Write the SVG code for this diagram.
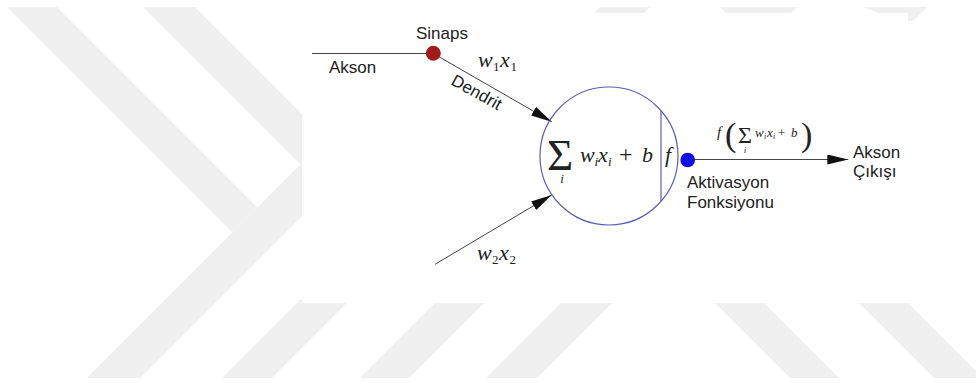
<svg xmlns="http://www.w3.org/2000/svg" width="976" height="383" viewBox="0 0 976 383">
<style>
.wm{fill:#efefef}
.lbl{font-family:"Liberation Sans",Arial,sans-serif;font-size:17px;fill:#222}
.m{font-family:"Liberation Serif","Times New Roman",serif;font-style:italic;fill:#222}
.up{font-style:normal}
.ln{stroke:#444;stroke-width:1;fill:none}
</style>
<defs>
<marker id="ah" markerUnits="userSpaceOnUse" markerWidth="22" markerHeight="10" refX="21" refY="5" orient="auto">
<path d="M0,0 L21,5 L0,10 Z" fill="#111"/>
</marker>
</defs>
<rect width="976" height="383" fill="#fff"/>
<g id="watermark">
<polygon class="wm" points="7,7 57,7 257.5,207.5 232.5,232.5"/>
<polygon class="wm" points="87,378 140,378 330,188 330,135"/>
<polygon class="wm" points="143,7 195,7 330,142 330,194"/>
<polygon class="wm" points="222,378 272,378 350,300 300,300"/>
<polygon class="wm" points="360,378 409,378 487,300 438,300"/>
<polygon class="wm" points="486,378 537,378 615,300 564,300"/>
<polygon class="wm" points="712,300 761,300 839,378 790,378"/>
<polygon class="wm" points="856,300 905,300 983,378 934,378"/>
<polygon class="wm" points="600,7 650,7 644,13 594,13"/>
<polygon class="wm" points="720,7 797,7 791,13 726,13"/>
<polygon class="wm" points="863,7 927,7 913,21 900,21"/>
<rect x="302" y="13" width="606" height="290" fill="#fff"/>
</g>
<g id="connectors">
<line class="ln" x1="312" y1="53.5" x2="430" y2="53.5"/>
<line class="ln" x1="433" y1="53.3" x2="551.7" y2="121.7" marker-end="url(#ah)"/>
<line class="ln" x1="435" y1="264.3" x2="551.7" y2="195" marker-end="url(#ah)"/>
<line class="ln" x1="690" y1="159.5" x2="848.3" y2="159.5" marker-end="url(#ah)"/>
<text class="lbl" transform="translate(450,84) rotate(29)">Dendrit</text>
<text class="m" font-size="22" y="67"><tspan x="478">w</tspan><tspan x="493" dy="4" font-size="13" class="up">1</tspan><tspan x="500" dy="-4">x</tspan><tspan x="510.5" dy="4" font-size="13" class="up">1</tspan></text>
<text class="m" font-size="22" y="260"><tspan x="477">w</tspan><tspan x="492" dy="4" font-size="13" class="up">2</tspan><tspan x="499" dy="-4">x</tspan><tspan x="509.5" dy="4" font-size="13" class="up">2</tspan></text>
<text class="m" font-size="15" x="717" y="137">f</text>
<text class="m up" font-size="34" x="725" y="146">(</text>
<text class="m up" font-size="24" x="738" y="143">Σ</text>
<text class="m" font-size="9" x="745" y="153" text-anchor="middle">i</text>
<text class="m" font-size="13" y="137"><tspan x="755">w</tspan><tspan x="764" dy="2" font-size="8">i</tspan><tspan x="767" dy="-2">x</tspan><tspan x="773" dy="2" font-size="8">i</tspan><tspan x="778" dy="-2" class="up">+</tspan><tspan x="791">b</tspan></text>
<text class="m up" font-size="34" x="801" y="146">)</text>
</g>
<g id="akson-in">
<text class="lbl" x="329" y="73">Akson</text>
</g>
<g id="sinaps">
<circle cx="433.3" cy="53.3" r="7.5" fill="#a11b1b"/>
<text class="lbl" x="416" y="39">Sinaps</text>
</g>
<g id="neuron">
<circle cx="609" cy="156" r="69" fill="none" stroke="#5c5cb8" stroke-width="1.2"/>
<line x1="661" y1="110.7" x2="661" y2="201.3" stroke="#5c5cb8" stroke-width="1.2"/>
<text class="m up" font-size="45" x="547" y="170">Σ</text>
<text class="m" font-size="13" x="562" y="183" text-anchor="middle">i</text>
<text class="m" font-size="22" y="162"><tspan x="580">w</tspan><tspan x="594.5" dy="4" font-size="13">i</tspan><tspan x="598" dy="-4">x</tspan><tspan x="608" dy="4" font-size="13">i</tspan><tspan x="619" dy="-4" class="up" font-size="24">+</tspan><tspan x="642">b</tspan></text>
<text class="m" font-size="22" x="665" y="162">f</text>
</g>
<g id="activation">
<circle cx="687.7" cy="160" r="7.3" fill="#1010e6"/>
<text class="lbl" x="687" y="188">Aktivasyon</text>
<text class="lbl" x="687" y="208">Fonksiyonu</text>
</g>
<g id="output">
<text class="lbl" x="853" y="158">Akson</text>
<text class="lbl" x="853" y="177">Çıkışı</text>
</g>
</svg>
